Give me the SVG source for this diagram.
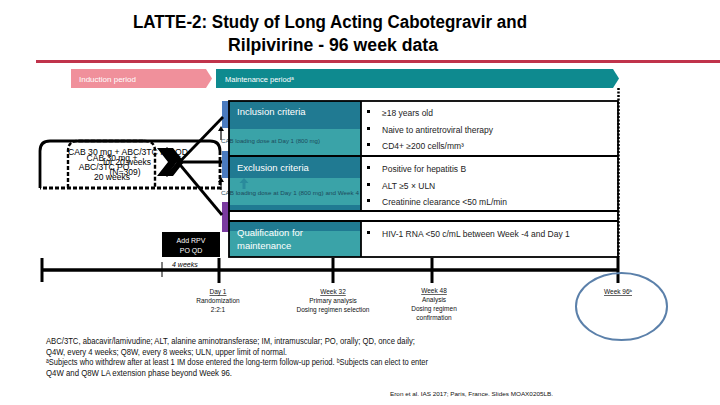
<svg xmlns="http://www.w3.org/2000/svg" width="720" height="405" viewBox="0 0 720 405">
<defs>
<style>
.t{font-family:"Liberation Sans","DejaVu Sans",Arial,sans-serif}
.w{fill:#fff}
.crit{font-family:"Liberation Sans","DejaVu Sans",Arial,sans-serif;font-size:8.5px;fill:#222}
.hdr{font-family:"Liberation Sans",Arial,sans-serif;font-size:9.5px;fill:#fff}
.lbl{font-family:"Liberation Sans","DejaVu Sans",Arial,sans-serif;font-size:6.5px;fill:#111;text-anchor:middle}
.fn{font-family:"Liberation Sans","DejaVu Sans",Arial,sans-serif;font-size:9px;fill:#111}
.blk{stroke:#000;fill:none}
</style>
<clipPath id="clipX"><rect x="215" y="185" width="146" height="15"/></clipPath>
</defs>
<rect width="720" height="405" fill="#fff"/>

<g id="title">
<text class="t" x="330" y="28" font-size="18" font-weight="bold" text-anchor="middle" textLength="394" lengthAdjust="spacingAndGlyphs" fill="#000">LATTE-2: Study of Long Acting Cabotegravir and</text>
<text class="t" x="333" y="51" font-size="18" font-weight="bold" text-anchor="middle" textLength="210" lengthAdjust="spacingAndGlyphs" fill="#000">Rilpivirine - 96 week data</text>
<line x1="36" y1="61.5" x2="720" y2="61.5" stroke="#c0334b" stroke-width="3"/>
</g>

<g id="induction-period">
<polygon points="71,69 206,69 212,78.5 206,88 71,88" fill="#f0909b"/>
<text class="t w" x="79" y="81.5" font-size="8">Induction period</text>
</g>
<g id="maintenance-period">
<polygon points="216,69 613,69 619,78.5 613,88 216,88" fill="#0e8a8f"/>
<text class="t w" x="225" y="81.5" font-size="7.5">Maintenance periodᵃ</text>
</g>

<g id="inclusion">
<rect x="222" y="101" width="7" height="27" fill="#4b7bbf"/>
<rect x="229" y="101" width="132" height="28" fill="#207a92"/>
<rect x="229" y="129" width="132" height="27" fill="#3aa3a8"/>
<rect x="361" y="101" width="257" height="55" fill="#fff"/>
<text class="hdr" x="237" y="114.5">Inclusion criteria</text>
<rect x="367" y="110" width="3" height="3" fill="#000"/>
<rect x="367" y="127" width="3" height="3" fill="#000"/>
<rect x="367" y="143" width="3" height="3" fill="#000"/>
<text class="crit" x="382" y="116">≥18 years old</text>
<text class="crit" x="382" y="133">Naive to antiretroviral therapy</text>
<text class="crit" x="382" y="149">CD4+ ≥200 cells/mm³</text>
<text class="t" x="221" y="143" font-size="5" fill="#1d4b5c" textLength="99" lengthAdjust="spacingAndGlyphs">CAB loading dose at Day 1 (800 mg)</text>
</g>

<g id="exclusion">
<rect x="222" y="151" width="7" height="27" fill="#4b7bbf"/>
<rect x="229" y="156" width="132" height="22" fill="#207a92"/>
<rect x="229" y="178" width="132" height="27" fill="#3aa3a8"/>
<rect x="229" y="205" width="132" height="5" fill="#207a92"/>
<rect x="361" y="156" width="257" height="55" fill="#fff"/>
<text class="hdr" x="237" y="170.5">Exclusion criteria</text>
<rect x="367" y="166" width="3" height="3" fill="#000"/>
<rect x="367" y="183" width="3" height="3" fill="#000"/>
<rect x="367" y="199" width="3" height="3" fill="#000"/>
<text class="crit" x="382" y="172">Positive for hepatitis B</text>
<text class="crit" x="382" y="189">ALT ≥5 × ULN</text>
<text class="crit" x="382" y="205">Creatinine clearance &lt;50 mL/min</text>
<path d="M244,178 L239.5,183 L242.5,183 L242.5,189 L245.5,189 L245.5,183 L248.5,183 Z" fill="#2a8b9c"/>
<text class="t" x="221" y="195" font-size="5" fill="#1d4b5c" clip-path="url(#clipX)" textLength="165" lengthAdjust="spacingAndGlyphs">CAB loading dose at Day 1 (800 mg) and Week 4 (800 mg)</text>
</g>

<g id="qualification">
<rect x="222" y="202" width="8" height="30" fill="#7a3aa0"/>
<rect x="229" y="211" width="389" height="10" fill="#fff"/>
<rect x="229" y="221" width="132" height="10" fill="#207a92"/>
<rect x="229" y="231" width="132" height="26" fill="#3aa3a8"/>
<rect x="361" y="221" width="257" height="36" fill="#fff"/>
<text class="hdr" x="237" y="236">Qualification for</text>
<text class="hdr" x="237" y="249">maintenance</text>
<rect x="367" y="231" width="3" height="3" fill="#000"/>
<text class="crit" x="382" y="237">HIV-1 RNA &lt;50 c/mL between Week -4 and Day 1</text>
</g>

<g id="criteria-grid" class="blk" stroke-width="1.8">
<rect x="229" y="101" width="389" height="156"/>
<line x1="229" y1="156" x2="618" y2="156"/>
<line x1="229" y1="211" x2="618" y2="211"/>
<line x1="229" y1="221" x2="618" y2="221"/>
<line x1="361" y1="101" x2="361" y2="211"/>
<line x1="361" y1="221" x2="361" y2="257"/>
</g>

<g id="induction-arm">
<path d="M40,188 L40,151 Q40,141 50,141 L210,141 Q220,141 220,151" class="blk" stroke-width="2.8"/>
<path d="M220,151 L220,188 L40,188" class="blk" stroke-width="2.8" stroke-dasharray="4,2"/>
<path d="M68,188 L68,151 Q68,141 78,141 L145,141 Q155,141 155,151 L155,188" class="blk" stroke-width="2.4" stroke-dasharray="4,2"/>
<line x1="78" y1="141" x2="145" y2="141" stroke="#000" stroke-width="2.6"/>
<text class="t" x="68" y="155" font-size="9" fill="#000" textLength="120" lengthAdjust="spacingAndGlyphs">CAB 30 mg + ABC/3TC PO QD</text>
<text class="t" x="112" y="160.5" font-size="8.5" fill="#000" text-anchor="middle">CAB 30 mg +</text>
<text class="t" x="127" y="164.5" font-size="8.5" fill="#000" text-anchor="middle">for 20 weeks</text>
<text class="t" x="104" y="170" font-size="8.5" fill="#000" text-anchor="middle">ABC/3TC PO</text>
<text class="t" x="125" y="174.5" font-size="8.5" fill="#000" text-anchor="middle">(N=309)</text>
<text class="t" x="112" y="179.5" font-size="8.5" fill="#000" text-anchor="middle">20 weeks</text>
<polygon points="157,148 166,148 177,162 166,176 157,176 168,162" fill="#000"/>
<polygon points="166,148 173,148 184,162 173,176 166,176 177,162" fill="#000"/>
</g>

<g id="add-rpv">
<rect x="162" y="232" width="58" height="25" fill="#000"/>
<text class="t w" x="191" y="242.5" font-size="7" text-anchor="middle">Add RPV</text>
<text class="t w" x="191" y="252.5" font-size="7" text-anchor="middle">PO QD</text>
</g>

<g id="connectors" stroke="#000" fill="none">
<line x1="166" y1="176" x2="223" y2="117" stroke-width="2.8"/>
<line x1="166" y1="148" x2="222" y2="215" stroke-width="2.8"/>
<line x1="177" y1="162" x2="222" y2="162" stroke-width="2.8"/>
<line x1="221" y1="140" x2="221" y2="130" stroke-width="1.2"/>
<path d="M218,131 L224,131 L221,126 Z" fill="#000" stroke="none"/>
<line x1="221" y1="190" x2="221" y2="181" stroke-width="1.2"/>
<path d="M218,182 L224,182 L221,177 Z" fill="#000" stroke="none"/>
<line x1="618.5" y1="88" x2="618.5" y2="257" stroke-width="2.5" stroke-dasharray="2,1.5"/>
</g>

<g id="timeline" stroke="#000" fill="none">
<line x1="42" y1="270" x2="618" y2="270" stroke-width="3.5"/>
<line x1="42" y1="258" x2="42" y2="282" stroke-width="3"/>
<line x1="162" y1="262" x2="162" y2="277" stroke-width="1"/>
<line x1="219" y1="258" x2="219" y2="283" stroke-width="3"/>
<line x1="333" y1="258" x2="333" y2="283" stroke-width="3"/>
<line x1="432" y1="258" x2="432" y2="283" stroke-width="3"/>
<line x1="618" y1="257" x2="618" y2="283" stroke-width="3"/>
</g>
<text class="t" x="172" y="266.5" font-size="7" font-style="italic" fill="#000">4 weeks</text>

<g id="day1">
<text class="lbl" x="218" y="294" text-decoration="underline">Day 1</text>
<text class="lbl" x="218" y="303">Randomization</text>
<text class="lbl" x="218" y="312">2:2:1</text>
</g>
<g id="week32">
<text class="lbl" x="333" y="294" text-decoration="underline">Week 32</text>
<text class="lbl" x="333" y="303">Primary analysis</text>
<text class="lbl" x="333" y="312">Dosing regimen selection</text>
</g>
<g id="week48">
<text class="lbl" x="434" y="293" text-decoration="underline">Week 48</text>
<text class="lbl" x="434" y="302">Analysis</text>
<text class="lbl" x="434" y="311">Dosing regimen</text>
<text class="lbl" x="434" y="320">confirmation</text>
</g>
<g id="week96">
<text class="lbl" x="618" y="294" text-decoration="underline">Week 96ᵇ</text>
<ellipse cx="621.5" cy="306.5" rx="45.5" ry="33.5" fill="none" stroke="#5b80aa" stroke-width="2"/>
</g>

<g id="footnotes">
<text class="fn" x="46" y="344" textLength="369" lengthAdjust="spacingAndGlyphs">ABC/3TC, abacavir/lamivudine; ALT, alanine aminotransferase; IM, intramuscular; PO, orally; QD, once daily;</text>
<text class="fn" x="46" y="354.5" textLength="241" lengthAdjust="spacingAndGlyphs">Q4W, every 4 weeks; Q8W, every 8 weeks; ULN, upper limit of normal.</text>
<text class="fn" x="46" y="365" textLength="382" lengthAdjust="spacingAndGlyphs">ᵃSubjects who withdrew after at least 1 IM dose entered the long-term follow-up period. ᵇSubjects can elect to enter</text>
<text class="fn" x="46" y="375.5" textLength="186" lengthAdjust="spacingAndGlyphs">Q4W and Q8W LA extension phase beyond Week 96.</text>
<text class="t" x="553" y="396" font-size="6" text-anchor="end" fill="#111" textLength="163" lengthAdjust="spacingAndGlyphs">Eron et al. IAS 2017; Paris, France. Slides MOAX0205LB.</text>
</g>
</svg>
